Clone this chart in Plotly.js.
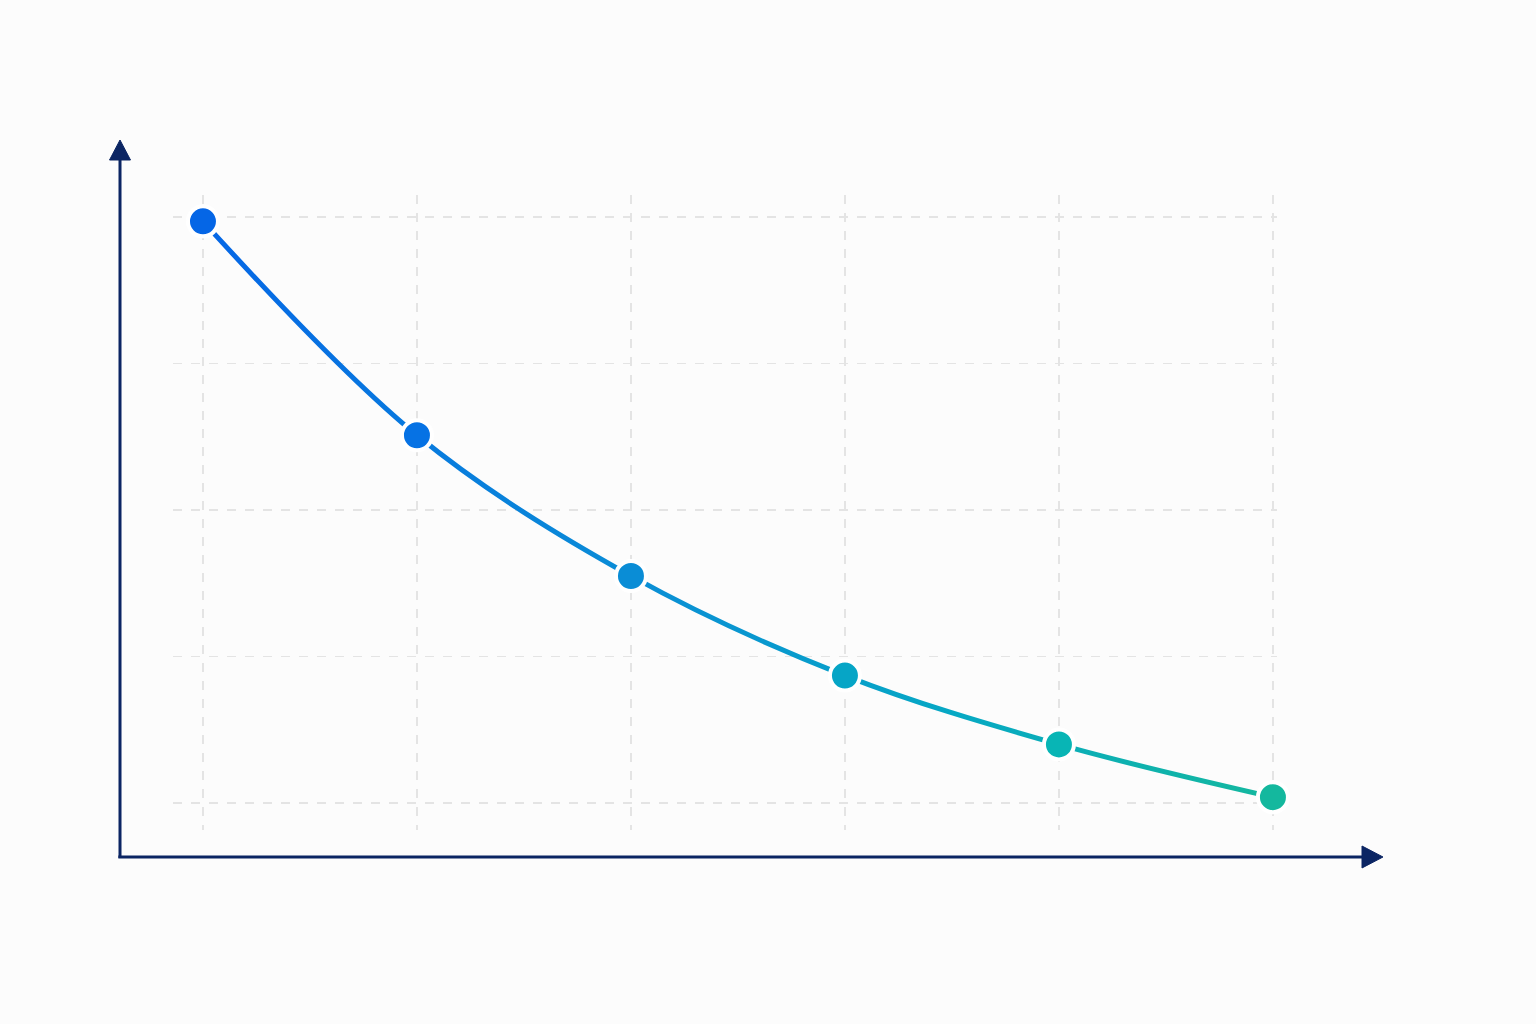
<!DOCTYPE html>
<html>
<head>
<meta charset="utf-8">
<script src="https://cdn.plot.ly/plotly-3.0.1.min.js"></script>
<style>html,body{margin:0;padding:0;background:#fcfcfc;}</style>
</head>
<body>
<div id="chart" style="width:1536px;height:1024px;"></div>
<script>
// Data
const xValues = [0, 1, 2, 3, 4, 5];
const yValues = [3.97, 2.51, 1.55, 0.87, 0.40, 0.04];

// Styles
const pointColors = ['#0566e6', '#0672e4', '#0a8dd6', '#06a5c6', '#08b5b5', '#14b89e'];
const axisColor = '#0b2563';

const trace = {
  x: xValues,
  y: yValues,
  type: 'scatter',
  mode: 'lines+markers',
  cliponaxis: false,
  line: {shape: 'spline', smoothing: 1, width: 5, color: '#0a8dd6'},
  marker: {size: 30, color: pointColors, line: {color: '#ffffff', width: 4}},
  hoverinfo: 'none'
};

const layout = {
  width: 1536, height: 1024,
  margin: {l: 173, r: 259, t: 195, b: 194, pad: 0},
  paper_bgcolor: '#fcfcfc',
  plot_bgcolor: '#fcfcfc',
  showlegend: false,
  xaxis: {range: [-0.140, 5.019], showgrid: true, gridcolor: '#e4e4e4', griddash: 'dash', gridwidth: 1.3,
          tickvals: xValues, showticklabels: false, ticks: '', zeroline: false, showline: false},
  yaxis: {range: [-0.184, 4.150], showgrid: true, gridcolor: '#e4e4e4', griddash: 'dash', gridwidth: 1.3,
          tickvals: [0, 1, 2, 3, 4], showticklabels: false, ticks: '', zeroline: false, showline: false},
  shapes: [
    {type: 'line', xref: 'paper', yref: 'paper', x0: -0.048, x1: -0.048, y0: -0.044, y1: 1.06, line: {color: axisColor, width: 3}},
    {type: 'path', xref: 'paper', yref: 'paper', path: 'M -0.0575 1.0551 L -0.048 1.0866 L -0.0385 1.0551 Z', fillcolor: axisColor, line: {color: axisColor, width: 1}},
    {type: 'line', xref: 'paper', yref: 'paper', x0: -0.0495, x1: 1.08, y0: -0.0425, y1: -0.0425, line: {color: axisColor, width: 3}},
    {type: 'path', xref: 'paper', yref: 'paper', path: 'M 1.0770 -0.0252 L 1.0960 -0.0425 L 1.0770 -0.0598 Z', fillcolor: axisColor, line: {color: axisColor, width: 1}}
  ]
};

Plotly.newPlot('chart', [trace], layout, {displayModeBar: false, staticPlot: true}).then(function () {
  const svg = document.querySelector('#chart .main-svg');
  const ns = 'http://www.w3.org/2000/svg';
  let defs = svg.querySelector('defs');
  if (!defs) { defs = document.createElementNS(ns, 'defs'); svg.insertBefore(defs, svg.firstChild); }
  const grad = document.createElementNS(ns, 'linearGradient');
  grad.setAttribute('id', 'lineGrad');
  grad.setAttribute('x1', '0'); grad.setAttribute('y1', '0');
  grad.setAttribute('x2', '1'); grad.setAttribute('y2', '0');
  [['0', '#0566e6'], ['0.4', '#0a8dd6'], ['0.7', '#06a8c4'], ['1', '#14b89e']].forEach(function (s) {
    const st = document.createElementNS(ns, 'stop');
    st.setAttribute('offset', s[0]);
    st.setAttribute('stop-color', s[1]);
    grad.appendChild(st);
  });
  defs.appendChild(grad);
  document.querySelectorAll('#chart path.js-line').forEach(function (p) {
    p.style.stroke = 'url(#lineGrad)';
  });
});
</script>
</body>
</html>
